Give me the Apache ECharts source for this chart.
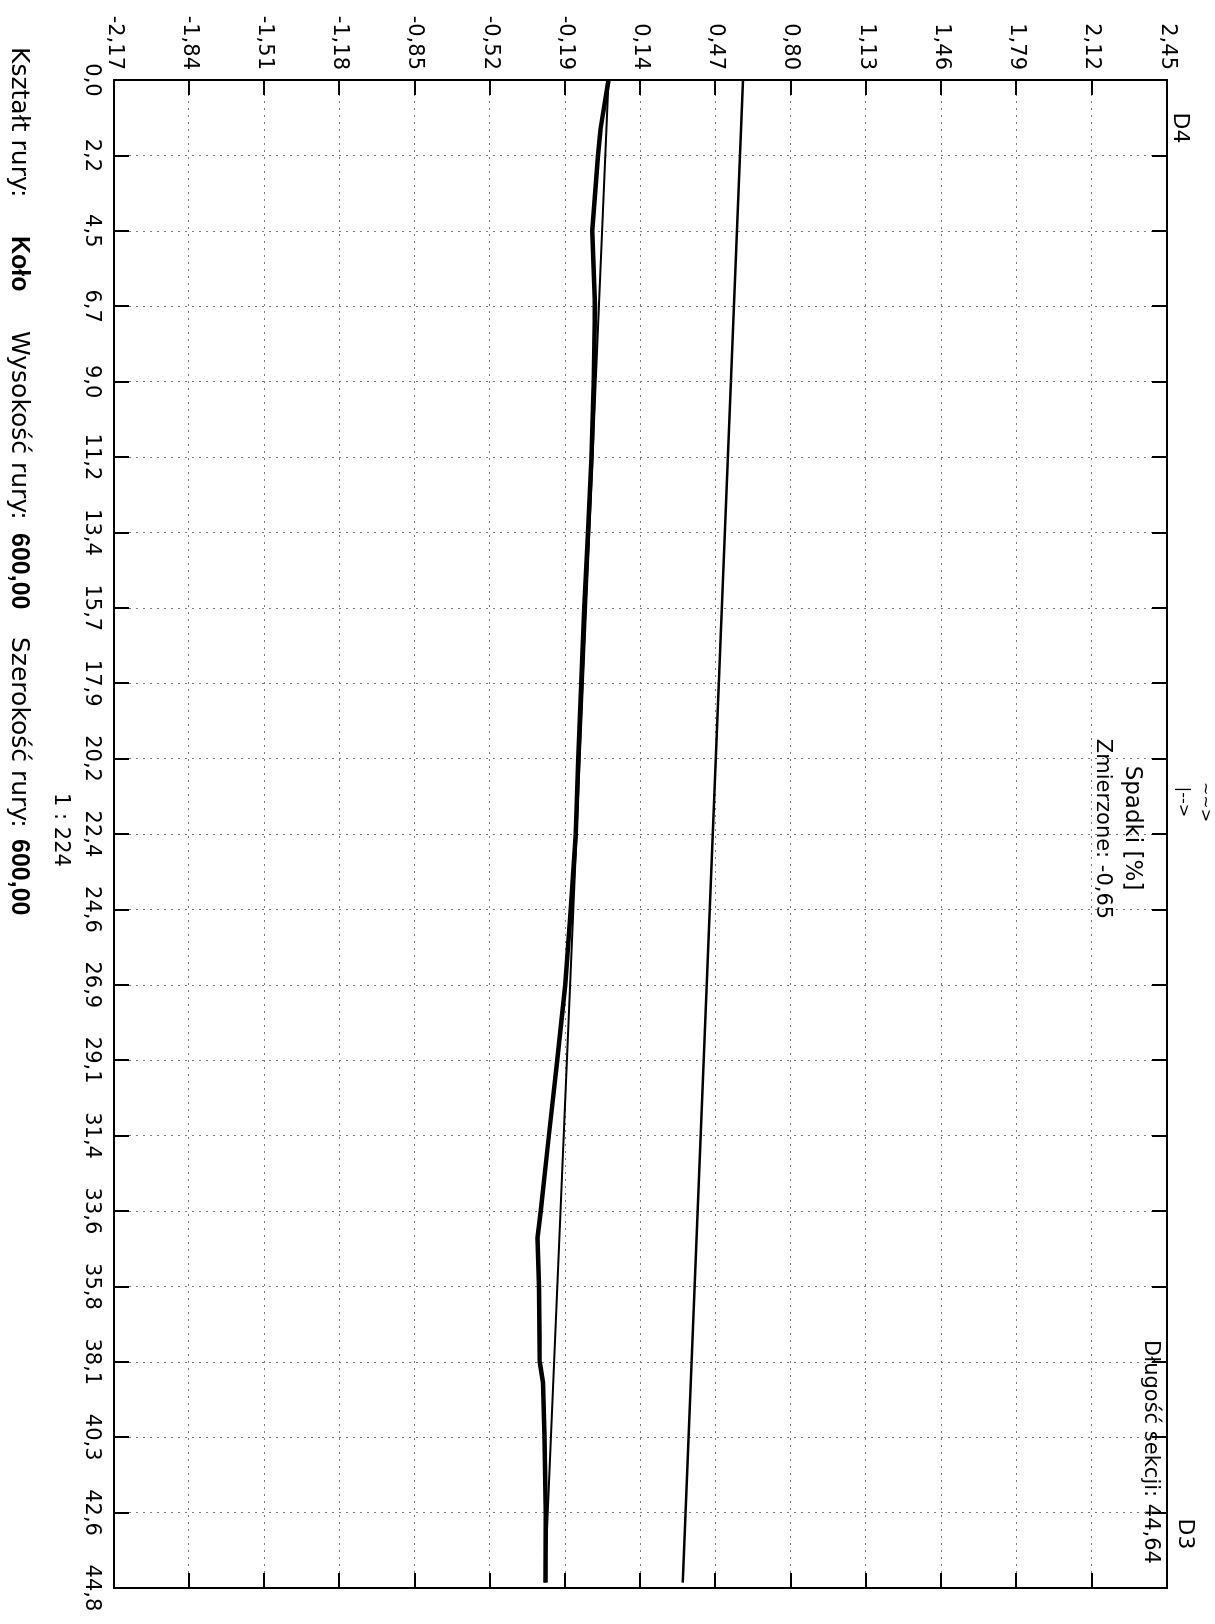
<!DOCTYPE html>
<html lang="pl">
<head>
<meta charset="utf-8">
<title>Spadki</title>
<script src="https://cdn.jsdelivr.net/npm/echarts@6.0.0/dist/echarts.min.js"></script>
<style>
  html, body { margin: 0; padding: 0; background: #fff; overflow: hidden; }
  #page { position: relative; width: 1215px; height: 1624px; overflow: hidden; }
  /* wykres rysowany poziomo, potem obrócony o 90° jak na wydruku */
  #chart { position: absolute; left: 0; top: 0; width: 1624px; height: 1215px;
    transform-origin: 0 0; transform: translate(1215px, 0) rotate(90deg); }
</style>
</head>
<body>
<div id="page"><div id="chart"></div></div>
<script>
// dane odczytane z wykresu
// odległość [m]
const measuredDist = [0, 1.48, 2.24, 4.48, 6.72, 8.96, 11.2, 13.44, 15.68, 17.92, 20.16, 22.4,
  24.64, 26.88, 29.12, 31.36, 33.6, 34.4, 35.84, 38.08, 38.7, 40.32, 42.56, 44.64]
// linia zmierzona (gruba)
const measuredSlope = [0.00, -0.036, -0.046, -0.072, -0.060, -0.065, -0.075, -0.090, -0.107, -0.120,
  -0.133, -0.144, -0.166, -0.190, -0.225, -0.262, -0.298, -0.312, -0.305, -0.302, -0.288, -0.281,
  -0.276, -0.277]
// linia spadku (cienka, prosta)
const designDist = [0, 44.64]
const designSlope = [0.00, -0.28]
// górna linia
const upperDist = [0, 44.64]
const upperSlope = [0.59, 0.325]

// osie
const distMin = 0
const distMax = 44.8
const distStep = 2.24
const slopeMin = -2.17
const slopeMax = 2.45
const slopeStep = 0.33

const FONT = 'DejaVu Sans'
const FONT_BOLD = 'Liberation Sans'

// oś Y przesunięta, żeby podziałka startowała od -2,17
const shift = -slopeMin
const toPairs = (xs, ys) => xs.map((x, i) => [x, ys[i] + shift])

const chart = echarts.init(document.getElementById('chart'))

const gridStyle = { color: '#7a7a7a', width: 1, type: [2, 5] }
const frame = { show: true, onZero: false, lineStyle: { color: '#000', width: 2 } }
const innerTick = { show: true, inside: true, length: 15, lineStyle: { color: '#000', width: 2 } }

function distAxis(pos, labels) {
  return {
    type: 'value', position: pos, min: distMin, max: distMax, interval: distStep,
    axisLine: frame, axisTick: innerTick,
    axisLabel: {
      show: labels, margin: 12, color: '#000', fontFamily: FONT, fontSize: 21,
      formatter: v => v.toFixed(1).replace('.', ',')
    },
    splitLine: { show: labels, lineStyle: gridStyle }
  }
}

function slopeAxis(pos, labels) {
  return {
    type: 'value', position: pos, min: 0, max: slopeMax - slopeMin, interval: slopeStep,
    axisLine: frame, axisTick: innerTick,
    axisLabel: {
      show: labels, margin: 10, color: '#000', fontFamily: FONT, fontSize: 21,
      formatter: v => (v - shift).toFixed(2).replace('.', ',')
    },
    splitLine: { show: labels, lineStyle: gridStyle }
  }
}

function txt(x, y, text, opts) {
  return {
    type: 'text', x: x, y: y, silent: true,
    style: Object.assign({
      text: text, fill: '#000', fontFamily: FONT, fontSize: 21,
      textAlign: 'left', textVerticalAlign: 'middle'
    }, opts || {})
  }
}

const option = {
  animation: false,
  backgroundColor: '#fff',
  grid: { left: 80, right: 36, top: 48, bottom: 114 },
  xAxis: [distAxis('bottom', true), distAxis('top', false)],
  yAxis: [slopeAxis('left', true), slopeAxis('right', false)],
  series: [
    {
      name: 'upper', type: 'line', data: toPairs(upperDist, upperSlope),
      showSymbol: false, lineStyle: { color: '#000', width: 2.5 }
    },
    {
      name: 'design', type: 'line', data: toPairs(designDist, designSlope),
      showSymbol: false, lineStyle: { color: '#000', width: 2 }
    },
    {
      name: 'measured', type: 'line', data: toPairs(measuredDist, measuredSlope),
      showSymbol: false, lineStyle: { color: '#000', width: 4.5, join: 'round' }
    }
  ],
  graphic: {
    elements: [
      txt(128, 35, 'D4', { textAlign: 'center', fontSize: 22 }),
      txt(1534, 30, 'D3', { textAlign: 'center', fontSize: 22 }),
      txt(802, 10, '~~>', { textAlign: 'center', fontSize: 16 }),
      txt(802, 32, '|-->', { textAlign: 'center', fontSize: 16 }),
      txt(828, 83, 'Spadki [%]', { textAlign: 'center', fontSize: 23 }),
      txt(829, 113, 'Zmierzone: -0,65', { textAlign: 'center', fontSize: 21 }),
      txt(1452, 65, 'Długość sekcji: 44,64', { textAlign: 'center', fontSize: 21 }),
      txt(830, 1155, '1 : 224', { textAlign: 'center', fontSize: 21 }),
      txt(47, 1196, 'Kształt rury:', { fontSize: 25 }),
      txt(236, 1196, 'Koło', { fontSize: 25, fontWeight: 'bold', fontFamily: FONT_BOLD }),
      txt(331, 1196, 'Wysokość rury:', { fontSize: 25 }),
      txt(533, 1196, '600,00', { fontSize: 25, fontWeight: 'bold', fontFamily: FONT_BOLD }),
      txt(637, 1196, 'Szerokość rury:', { fontSize: 25 }),
      txt(839, 1196, '600,00', { fontSize: 25, fontWeight: 'bold', fontFamily: FONT_BOLD })
    ]
  }
}

chart.setOption(option)
</script>
</body>
</html>
